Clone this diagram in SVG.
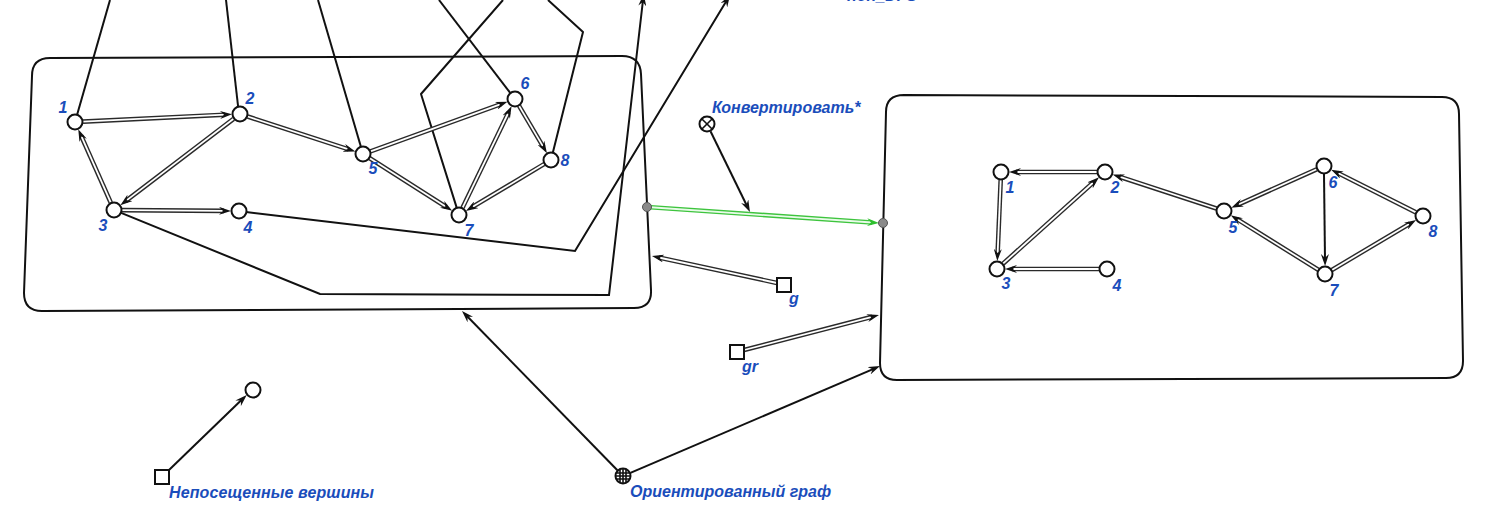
<svg xmlns="http://www.w3.org/2000/svg" width="1486" height="526" viewBox="0 0 1486 526">
<style>
.frame{fill:none;stroke:#111;stroke-width:2}
.ln{fill:none;stroke:#111;stroke-width:2;stroke-linejoin:round}
.la{fill:none;stroke:#111;stroke-width:2;marker-end:url(#ah)}
.o{fill:none;stroke:#2a2a2a;stroke-width:4.6}
.i{fill:none;stroke:#fff;stroke-width:1.8;marker-end:url(#ah)}
.go{fill:none;stroke:#3ec43e;stroke-width:4.6}
.gi{fill:none;stroke:#e9fbe9;stroke-width:1.8;marker-end:url(#ahg)}
.nd{fill:#fff;stroke:#111;stroke-width:2}
.dot{fill:#8a8a8a;stroke:#555;stroke-width:1}
.sym{fill:none;stroke:#111;stroke-width:1.6}
text{font-family:"Liberation Sans",Arial,sans-serif;font-weight:bold;font-style:italic;fill:#1a4dbb}
.num{font-size:16px;text-anchor:middle}
.lbl{font-size:16px}
</style>
<defs>
<marker id="ah" markerUnits="userSpaceOnUse" markerWidth="12" markerHeight="8" viewBox="0 0 12 8" refX="5" refY="4" orient="auto"><path d="M0,0 L12,4 L0,8 L4,4 Z" fill="#111"/></marker>
<marker id="ahg" markerUnits="userSpaceOnUse" markerWidth="12" markerHeight="8" viewBox="0 0 12 8" refX="5" refY="4" orient="auto"><path d="M0,0 L12,4 L0,8 L4,4 Z" fill="#2fbf2f"/></marker>
</defs>
<rect width="1486" height="526" fill="#fff"/>

<g id="frame-left"><path class="frame" d="M50,58 L622,56 Q640,56 641,74 L651,290 Q652,308 634,308 L42,311 Q24,311 24,293 L32,76 Q32,58 50,58 Z"/></g>
<g id="frame-right"><path class="frame" d="M904,95 L1442,97 Q1459,97 1459,114 L1463,361 Q1463,378 1446,378 L897,380 Q880,380 880,363 L886,112 Q886,95 904,95 Z"/></g>

<g id="connectors">
<path class="ln" d="M77.1,114.8 L110,0"/>
<path class="ln" d="M238.1,106.5 L226,0"/>
<path class="ln" d="M360.9,146.8 L318,0"/>
<path class="ln" d="M456.6,207.4 L421,94 L503,0"/>
<path class="ln" d="M510.4,93.1 L439,0"/>
<path class="ln" d="M552.8,152.7 L583,32 L548,0"/>
<path class="la" d="M246,212 L575,251 L726.4,1"/>
<path class="la" d="M120.5,212.6 L320,294 L609,295 L642.9,1"/>

<path class="o" d="M83,121.6 L225,114.7"/><path class="i" d="M83,121.6 L225,114.7"/>
<path class="o" d="M247.6,116.5 L348.7,149.4"/><path class="i" d="M247.6,116.5 L348.7,149.4"/>
<path class="o" d="M233.6,118.8 L125.9,200.9"/><path class="i" d="M233.6,118.8 L125.9,200.9"/>
<path class="o" d="M110.8,202.7 L81.1,135.7"/><path class="i" d="M110.8,202.7 L81.1,135.7"/>
<path class="o" d="M122,210.1 L224,210.9"/><path class="i" d="M122,210.1 L224,210.9"/>
<path class="o" d="M370.5,151.3 L500.9,104.1"/><path class="i" d="M370.5,151.3 L500.9,104.1"/>
<path class="o" d="M369.8,158.3 L446.3,207"/><path class="i" d="M369.8,158.3 L446.3,207"/>
<path class="o" d="M462.5,207.8 L508.5,112.5"/><path class="i" d="M462.5,207.8 L508.5,112.5"/>
<path class="o" d="M519.1,105.9 L543.4,147.1"/><path class="i" d="M519.1,105.9 L543.4,147.1"/>
<path class="o" d="M544.1,164.1 L471.9,207.3"/><path class="i" d="M544.1,164.1 L471.9,207.3"/>

<path class="o" d="M1097,172 L1016,172"/><path class="i" d="M1097,172 L1016,172"/>
<path class="o" d="M1000.7,180 L997.6,254"/><path class="i" d="M1000.7,180 L997.6,254"/>
<path class="o" d="M1003,263.7 L1093.8,182"/><path class="i" d="M1003,263.7 L1093.8,182"/>
<path class="o" d="M1099,269 L1012,269"/><path class="i" d="M1099,269 L1012,269"/>
<path class="o" d="M1216.4,208.5 L1119.3,176.7"/><path class="i" d="M1216.4,208.5 L1119.3,176.7"/>
<path class="o" d="M1316.7,169.3 L1237.7,204.8"/><path class="i" d="M1316.7,169.3 L1237.7,204.8"/>
<path class="o" d="M1318.2,269.8 L1236.7,218.9"/><path class="i" d="M1318.2,269.8 L1236.7,218.9"/>
<path class="la" d="M1324,174 L1325,259"/>
<path class="o" d="M1331.9,269.9 L1410.1,223.6"/><path class="i" d="M1331.9,269.9 L1410.1,223.6"/>
<path class="o" d="M1415.9,212.4 L1337.4,172.8"/><path class="i" d="M1415.9,212.4 L1337.4,172.8"/>

<path class="go" d="M647,207 L872,222.5"/><path class="gi" d="M647,207 L872,222.5"/>
<path class="la" d="M710.5,131.2 L746.9,205.7"/>
<path class="o" d="M777,283 L658.8,257.5"/><path class="i" d="M777,283 L658.8,257.5"/>
<path class="o" d="M744,350 L872.2,316.8"/><path class="i" d="M744,350 L872.2,316.8"/>
<path class="la" d="M169,470 L241.7,399.8"/>
<path class="la" d="M617.4,470.3 L466.9,316"/>
<path class="la" d="M630.4,472.9 L873.6,368.8"/>
</g>

<g id="port-left"><circle class="dot" cx="647" cy="207" r="4.5"/></g>
<g id="port-right"><circle class="dot" cx="883" cy="223" r="4.5"/></g>

<g id="L1"><circle class="nd" cx="75" cy="122" r="7.5"/><text class="num" x="63" y="113">1</text></g>
<g id="L2"><circle class="nd" cx="240" cy="114" r="7.5"/><text class="num" x="250" y="104">2</text></g>
<g id="L3"><circle class="nd" cx="114" cy="210" r="7.5"/><text class="num" x="103" y="231">3</text></g>
<g id="L4"><circle class="nd" cx="239" cy="211" r="7.5"/><text class="num" x="248" y="233">4</text></g>
<g id="L5"><circle class="nd" cx="363" cy="154" r="7.5"/><text class="num" x="373" y="174">5</text></g>
<g id="L6"><circle class="nd" cx="515" cy="99" r="7.5"/><text class="num" x="525" y="89">6</text></g>
<g id="L7"><circle class="nd" cx="459" cy="215" r="7.5"/><text class="num" x="469" y="236">7</text></g>
<g id="L8"><circle class="nd" cx="551" cy="160" r="7.5"/><text class="num" x="565" y="166">8</text></g>

<g id="R1"><circle class="nd" cx="1001" cy="172" r="7.5"/><text class="num" x="1010" y="193">1</text></g>
<g id="R2"><circle class="nd" cx="1105" cy="172" r="7.5"/><text class="num" x="1115" y="193">2</text></g>
<g id="R3"><circle class="nd" cx="997" cy="269" r="7.5"/><text class="num" x="1006" y="289">3</text></g>
<g id="R4"><circle class="nd" cx="1107" cy="269" r="7.5"/><text class="num" x="1117" y="291">4</text></g>
<g id="R5"><circle class="nd" cx="1224" cy="211" r="7.5"/><text class="num" x="1233" y="233">5</text></g>
<g id="R6"><circle class="nd" cx="1324" cy="166" r="7.5"/><text class="num" x="1333" y="188">6</text></g>
<g id="R7"><circle class="nd" cx="1325" cy="274" r="7.5"/><text class="num" x="1334" y="296">7</text></g>
<g id="R8"><circle class="nd" cx="1423" cy="216" r="7.5"/><text class="num" x="1433" y="237">8</text></g>

<g id="convert"><circle class="nd" cx="707" cy="124" r="7.5"/><path class="sym" d="M701.7,118.7 L712.3,129.3 M712.3,118.7 L701.7,129.3"/><text class="lbl" x="712" y="113">Конвертировать*</text></g>
<g id="g"><rect class="nd" x="777" y="278" width="14" height="14"/><text class="lbl" x="789" y="304">g</text></g>
<g id="gr"><rect class="nd" x="730" y="345" width="14" height="14"/><text class="lbl" x="742" y="372">gr</text></g>
<g id="unvisited"><rect class="nd" x="155" y="470" width="14" height="14"/><text class="lbl" x="169" y="498" textLength="205">Непосещенные вершины</text></g>
<g id="unvisited-node"><circle class="nd" cx="253" cy="390" r="7.5"/></g>
<g id="oriented"><circle class="nd" cx="623" cy="476" r="7.5"/><path class="sym" d="M616.5,473 H629.5 M616,476 H630 M616.5,479 H629.5 M620,469.5 V482.5 M623,469 V483 M626,469.5 V482.5"/><text class="lbl" x="630" y="497">Ориентированный граф</text></g>
<g id="non-dfs"><text class="lbl" x="847" y="0.5">non_DFS</text></g>
</svg>
